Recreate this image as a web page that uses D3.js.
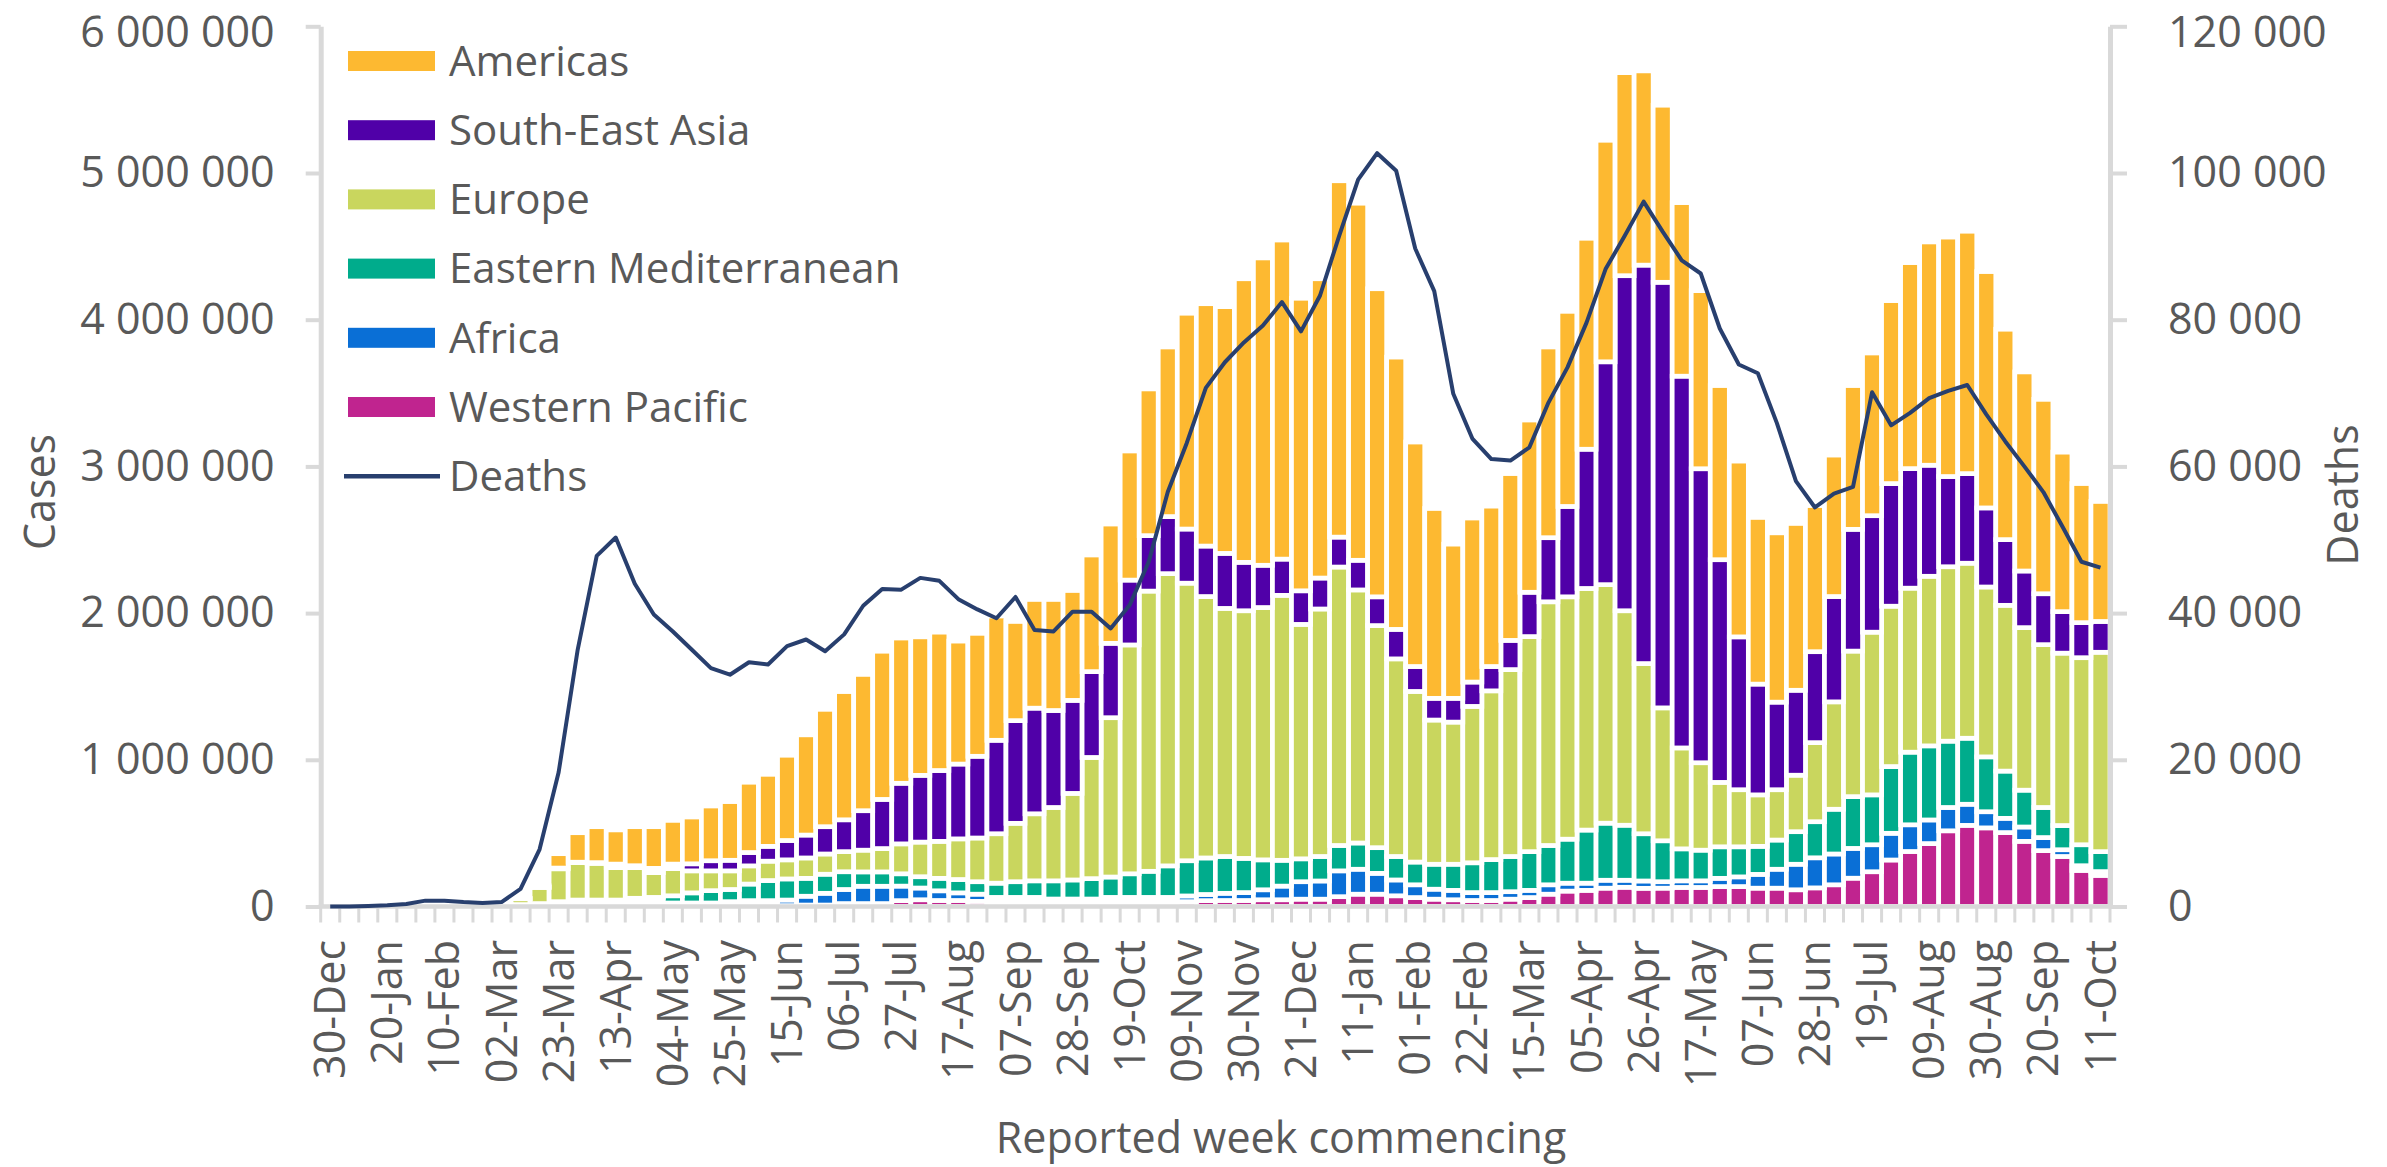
<!DOCTYPE html>
<html><head><meta charset="utf-8">
<script src="https://cdn.jsdelivr.net/npm/d3@7"></script>
<style>
html,body{margin:0;padding:0;background:#fff;}
svg{display:block;font-family:"Open Sans",sans-serif;}
</style></head><body>
<svg id="chart" width="2387" height="1167"></svg>
<script>
// ---- categories (reported week commencing) ----
const weeks = ["30-Dec","06-Jan","13-Jan","20-Jan","27-Jan","03-Feb","10-Feb","17-Feb","24-Feb","02-Mar",
"09-Mar","16-Mar","23-Mar","30-Mar","06-Apr","13-Apr","20-Apr","27-Apr","04-May","11-May",
"18-May","25-May","01-Jun","08-Jun","15-Jun","22-Jun","29-Jun","06-Jul","13-Jul","20-Jul",
"27-Jul","03-Aug","10-Aug","17-Aug","24-Aug","31-Aug","07-Sep","14-Sep","21-Sep","28-Sep",
"05-Oct","12-Oct","19-Oct","26-Oct","02-Nov","09-Nov","16-Nov","23-Nov","30-Nov","07-Dec",
"14-Dec","21-Dec","28-Dec","04-Jan","11-Jan","18-Jan","25-Jan","01-Feb","08-Feb","15-Feb",
"22-Feb","01-Mar","08-Mar","15-Mar","22-Mar","29-Mar","05-Apr","12-Apr","19-Apr","26-Apr",
"03-May","10-May","17-May","24-May","31-May","07-Jun","14-Jun","21-Jun","28-Jun","05-Jul",
"12-Jul","19-Jul","26-Jul","02-Aug","09-Aug","16-Aug","23-Aug","30-Aug","06-Sep","13-Sep",
"20-Sep","27-Sep","04-Oct","11-Oct"];

// ---- weekly cases by WHO region (thousands) ----
const westernPacific = [0,0,0,0.3,14,22,24,9,3,2,
5,8,10,12,10,10,12,15,6,6,
6,8,10,12,6,10,10,20,20,20,
40,46,41,41,35,30,30,30,25,25,
25,30,30,30,30,33,40,41,41,46,
46,50,50,67,84,84,73,61,50,46,
41,41,50,61,84,105,110,125,131,124,
125,130,130,136,136,125,125,114,127,148,
193,237,317,375,429,516,553,536,504,444,
381,341,246,212];
const africa = [0,0,0,0,0,0,0,0,0,0.1,
0.1,1,3,4,4,5,12,15,18,18,
18,25,30,28,38,60,80,96,118,118,
99,80,66,52,49,32,32,32,26,26,
26,32,32,32,32,39,42,49,54,68,
93,119,124,176,170,142,108,87,68,64,
54,54,51,49,64,54,49,54,48,50,
44,45,45,56,66,94,129,174,205,210,
203,184,182,182,161,159,144,110,97,98,
89,46,32,26];
const easternMediterranean = [0,0,0,0,0,0,0,0,1,4,
8,11,20,28,30,29,32,32,49,69,
84,83,113,137,144,122,130,121,98,98,
84,77,85,91,85,97,107,113,124,130,
139,139,161,178,215,240,249,251,233,204,
176,156,167,173,179,175,160,155,170,178,
203,225,240,264,268,300,362,389,375,322,
279,218,209,215,205,191,199,222,246,305,
353,340,455,495,505,452,450,374,322,251,
205,165,143,136];
const europe = [0,0,0,0,0,0,0,0,1,6,
40,110,224,255,250,221,209,169,185,150,
135,127,124,132,130,139,138,137,148,159,
204,236,252,277,298,337,398,457,500,590,
826,1086,1560,1910,1992,1892,1782,1691,1688,1720,
1806,1598,1687,1898,1725,1514,1347,1163,983,969,
1066,1150,1274,1466,1661,1652,1647,1626,1462,1160,
906,688,596,439,389,351,343,385,539,732,
992,1109,1093,1118,1156,1189,1193,1158,1130,1108,
1110,1175,1275,1359];
const southEastAsia = [0,0,0,0,0,0,0,0,0,0.1,
0.1,1,5,3,5,24,13,29,31,48,
69,72,91,101,132,156,186,217,269,335,
413,455,483,510,557,637,700,720,661,634,
585,507,442,378,389,369,344,375,330,288,
247,229,211,204,202,196,201,170,148,162,
166,166,199,302,437,616,949,1519,2284,2716,
2901,2534,2004,1518,1042,755,597,579,620,718,
830,794,836,815,757,615,611,539,448,386,
347,283,239,210];
const americas = [0,0,0,0,0,0,0,0,0,0.5,
2,10,98,201,245,233,266,284,298,319,
373,400,479,491,581,683,800,874,929,1010,
990,944,943,838,838,847,676,741,757,749,
795,813,880,1000,1156,1471,1652,1682,1933,2095,
2175,1994,2040,2429,2434,2100,1856,1530,1294,1051,
1118,1093,1137,1174,1300,1330,1438,1510,1384,1324,
1207,1183,1214,1187,1198,1136,1154,1137,996,964,
980,1109,1247,1404,1522,1632,1652,1611,1434,1357,
1325,1087,948,818];
// ---- weekly deaths (thousands) ----
const deaths = [0,0,0.07,0.16,0.34,0.8,0.8,0.6,0.48,0.6,
2.4,7.8,18.3,35.0,47.8,50.3,44.0,39.8,37.5,35.0,
32.5,31.6,33.3,33.0,35.5,36.4,34.8,37.1,41.0,43.3,
43.2,44.8,44.4,41.9,40.5,39.3,42.2,37.7,37.5,40.2,
40.2,37.9,41.1,47.0,56.5,63.2,70.7,74.2,76.9,79.2,
82.4,78.4,83.3,91.4,99.1,102.7,100.3,89.7,83.9,69.9,
63.8,61.0,60.8,62.6,68.7,73.5,79.6,86.9,91.4,96.1,
92.0,88.1,86.3,78.8,73.9,72.7,65.9,58.0,54.4,56.3,
57.2,70.1,65.6,67.3,69.3,70.3,71.1,67.1,63.4,60.0,
56.5,51.8,47.0,46.2];

// ---- ticks ----
const caseTicks = [0,1000000,2000000,3000000,4000000,5000000,6000000];
const caseTickLabels = ["0","1 000 000","2 000 000","3 000 000","4 000 000","5 000 000","6 000 000"];
const deathTicks = [0,20000,40000,60000,80000,100000,120000];
const deathTickLabels = ["0","20 000","40 000","60 000","80 000","100 000","120 000"];

const seriesKeys = ["wp","afr","em","eur","sea","am"];
const seriesNames = {am:"Americas",sea:"South-East Asia",eur:"Europe",em:"Eastern Mediterranean",afr:"Africa",wp:"Western Pacific"};
const colors = {am:"#FDB931",sea:"#5000A8",eur:"#C9D65E",em:"#00AC8C",afr:"#0A6FD6",wp:"#C0248F"};
const deathColor = "#283F6E";
const textColor = "#595959";
const axisColor = "#D9D9D9";
const fontSize = 43;
const legendFontSize = 42;

const plot = {left:320.7, right:2110, top:26.3, bottom:906.5};
const svg = d3.select("#chart");

const x = d3.scaleBand().domain(weeks).range([plot.left, plot.right]).paddingInner(0).paddingOuter(0);
const bw = x.bandwidth();
const yCases = d3.scaleLinear().domain([0,6000000]).range([plot.bottom, plot.top]);
const yDeaths = d3.scaleLinear().domain([0,120000]).range([plot.bottom, plot.top]);

const rows = weeks.map((w,i)=>({
  week:w,
  wp:westernPacific[i]*1000, afr:africa[i]*1000, em:easternMediterranean[i]*1000,
  eur:europe[i]*1000, sea:southEastAsia[i]*1000, am:americas[i]*1000
}));
const stacked = d3.stack().keys(seriesKeys)(rows);

// bars
svg.append("g").attr("class","bars")
  .selectAll("g").data(stacked).join("g")
  .attr("fill", d=>colors[d.key])
  .selectAll("rect").data(d=>d).join("rect")
  .attr("x", d=>x(d.data.week))
  .attr("width", bw)
  .attr("y", d=>yCases(d[1]))
  .attr("height", d=>Math.max(0, yCases(d[0]) - yCases(d[1])))
  .attr("stroke","#fff").attr("stroke-width",4.7);

// left axis
const gL = svg.append("g").attr("transform",`translate(${plot.left},0)`)
  .call(d3.axisLeft(yCases).tickValues(caseTicks).tickFormat((d,i)=>caseTickLabels[i])
        .tickSize(15).tickSizeOuter(0).tickPadding(31));
// right axis
const gR = svg.append("g").attr("transform",`translate(${plot.right},0)`)
  .call(d3.axisRight(yDeaths).tickValues(deathTicks).tickFormat((d,i)=>deathTickLabels[i])
        .tickSize(17).tickSizeOuter(0).tickPadding(41));
[gL,gR].forEach(g=>{
  g.select(".domain").attr("stroke",axisColor).attr("stroke-width",5);
  g.selectAll(".tick line").attr("stroke",axisColor).attr("stroke-width",4);
  g.selectAll(".tick text").attr("fill",textColor).attr("font-size",fontSize)
    .attr("font-family",'"Open Sans",sans-serif');
});
// keep the topmost labels inside the canvas
gL.selectAll(".tick text").filter(d=>d===6000000).attr("y",6);
gR.selectAll(".tick text").filter(d=>d===120000).attr("y",6);

// bottom axis (category boundaries as ticks)
const gB = svg.append("g");
gB.append("line").attr("x1",plot.left-2).attr("x2",plot.right+2)
  .attr("y1",plot.bottom).attr("y2",plot.bottom)
  .attr("stroke",axisColor).attr("stroke-width",4.5);
gB.selectAll("line.bt").data(weeks.concat(["end"])).join("line").attr("class","bt")
  .attr("x1",(d,i)=> i<weeks.length ? x(d) : plot.right)
  .attr("x2",(d,i)=> i<weeks.length ? x(d) : plot.right)
  .attr("y1",plot.bottom).attr("y2",plot.bottom+16)
  .attr("stroke",axisColor).attr("stroke-width",3);
gB.selectAll("text").data(weeks.filter((d,i)=>i%3===0)).join("text")
  .attr("transform",d=>`translate(${x(d)+bw/2},940) rotate(-90)`)
  .attr("text-anchor","end").attr("dy","0.35em")
  .attr("font-size",fontSize).attr("fill",textColor)
  .text(d=>d);

// deaths line
svg.append("path").datum(deaths)
  .attr("fill","none").attr("stroke",deathColor).attr("stroke-width",4)
  .attr("stroke-linejoin","round")
  .attr("d", d3.line().x((d,i)=>x(weeks[i])+bw/2).y(d=>yDeaths(d*1000)));

// axis titles
svg.append("text").attr("transform","translate(55,492) rotate(-90)")
  .attr("text-anchor","middle").attr("font-size",fontSize).attr("fill",textColor).text("Cases");
svg.append("text").attr("transform","translate(2358,495) rotate(-90)")
  .attr("text-anchor","middle").attr("font-size",fontSize).attr("fill",textColor).text("Deaths");
svg.append("text").attr("x",1281).attr("y",1153)
  .attr("text-anchor","middle").attr("font-size",fontSize).attr("fill",textColor)
  .text("Reported week commencing");

// legend
const legendOrder = ["am","sea","eur","em","afr","wp"];
const lg = svg.append("g");
const rowY = i => 61 + i*69.2;
legendOrder.forEach((k,i)=>{
  lg.append("rect").attr("x",348).attr("y",rowY(i)-10).attr("width",87).attr("height",20).attr("fill",colors[k]);
  lg.append("text").attr("x",449).attr("y",rowY(i)).attr("dy","0.35em")
    .attr("font-size",legendFontSize).attr("fill",textColor).text(seriesNames[k]);
});
lg.append("line").attr("x1",344).attr("x2",440).attr("y1",rowY(6)).attr("y2",rowY(6))
  .attr("stroke",deathColor).attr("stroke-width",4.5);
lg.append("text").attr("x",449).attr("y",rowY(6)).attr("dy","0.35em")
  .attr("font-size",legendFontSize).attr("fill",textColor).text("Deaths");
</script>
</body></html>
